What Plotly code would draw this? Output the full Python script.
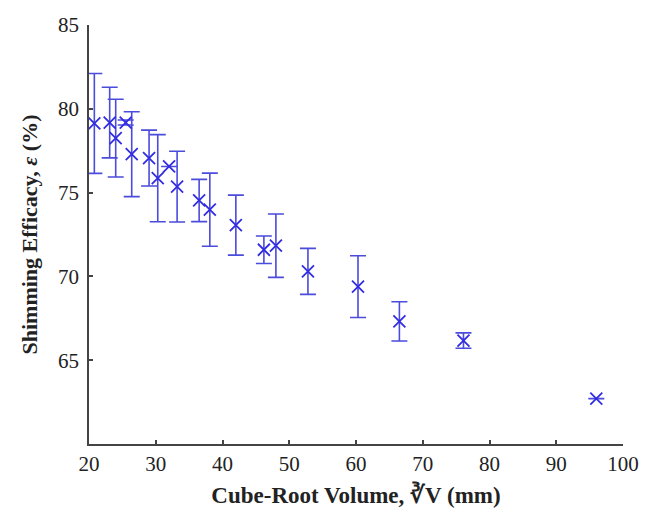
import plotly.graph_objects as go

volume_mm = [20.8, 23.1, 24.0, 25.5, 26.4, 29.0, 30.3, 32.0, 33.2, 36.5, 38.1, 42.0,
             46.2, 48.0, 52.8, 60.3, 66.5, 76.1, 96.0]
efficacy = [79.13, 79.18, 78.25, 79.18, 77.29, 77.06, 75.86, 76.56, 75.36, 74.53, 73.98, 73.06,
            71.59, 71.83, 70.30, 69.39, 67.32, 66.17, 62.71]
efficacy_err = [2.98, 2.11, 2.32, 0.15, 2.53, 1.67, 2.60, 0.0, 2.11, 1.26, 2.18, 1.79,
                0.82, 1.89, 1.37, 1.84, 1.17, 0.46, 0.0]

x_ticks = [20, 30, 40, 50, 60, 70, 80, 90, 100]
y_ticks = [65, 70, 75, 80, 85]

blue = "rgb(50,45,225)"
err_blue = "rgb(75,75,220)"

fig = go.Figure()
fig.add_trace(go.Scatter(
    x=volume_mm, y=efficacy, mode="markers",
    marker=dict(symbol="x-thin", size=12, line=dict(color=blue, width=1.8), color=blue),
    error_y=dict(type="data", array=efficacy_err, visible=True, color=err_blue,
                 thickness=1.6, width=8),
    showlegend=False,
    cliponaxis=False,
))

font_family = "Liberation Serif, Times New Roman, serif"
fig.update_layout(
    width=643, height=505,
    margin=dict(l=81, r=28, t=17, b=69),
    paper_bgcolor="white", plot_bgcolor="white",
    font=dict(family=font_family, size=21, color="#222"),
    xaxis=dict(range=[20, 100], tickvals=x_ticks, ticktext=[str(t) for t in x_ticks],
               showgrid=False, zeroline=False, showline=True, linecolor="#444", linewidth=1.5,
               ticks="inside", ticklen=4, tickcolor="#444", tickwidth=1.5,
               tickfont=dict(size=21, family=font_family), automargin=False,
               title=dict(text="<b>Cube-Root Volume, ∛V (mm)</b>", standoff=12,
                          font=dict(size=23, family=font_family))),
    yaxis=dict(range=[60, 85], tickvals=y_ticks, ticktext=[str(t) for t in y_ticks],
               showgrid=False, zeroline=False, showline=True, linecolor="#444", linewidth=1.5,
               ticks="inside", ticklen=4, tickcolor="#444", tickwidth=1.5,
               tickfont=dict(size=21, family=font_family), automargin=False,
               ticklabelstandoff=4,
               title=dict(text="<b>Shimming Efficacy, <i>ε</i> (%)</b>", standoff=14,
                          font=dict(size=22, family=font_family))),
)

fig.write_html("out.html")
